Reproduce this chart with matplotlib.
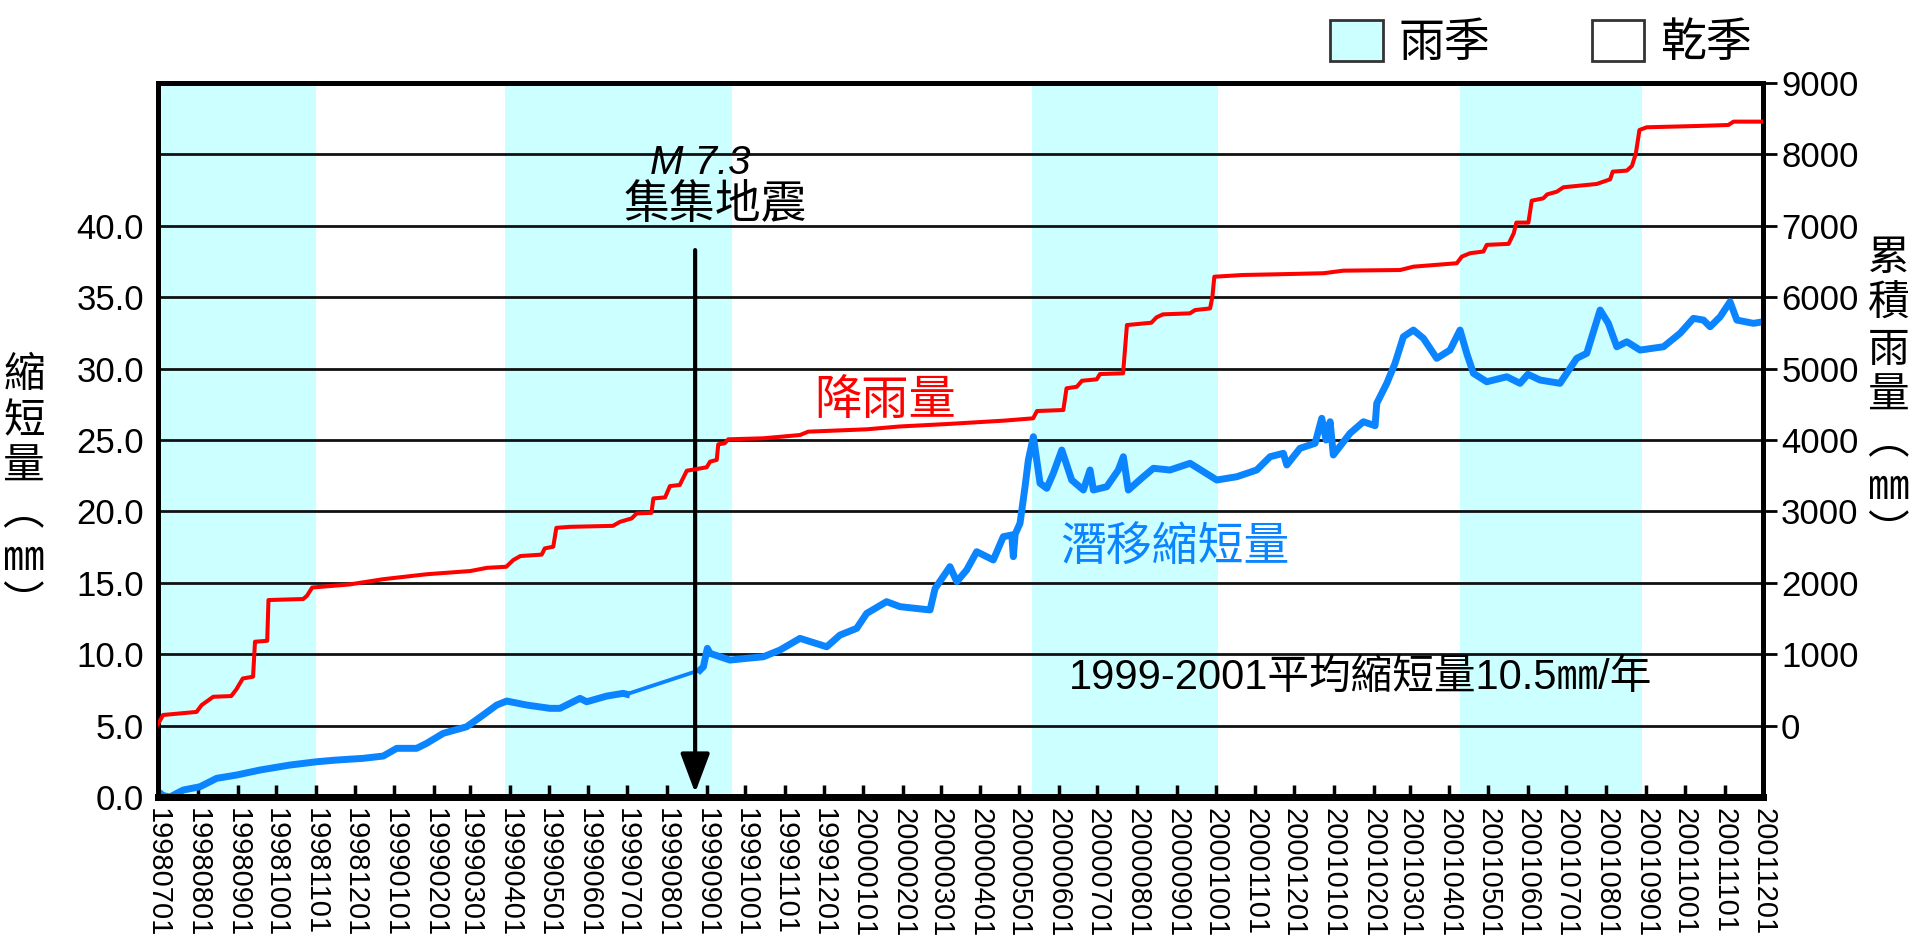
import numpy as np
import pandas as pd
import matplotlib
matplotlib.use("Agg")
import matplotlib.pyplot as plt
import matplotlib.dates as mdates
from matplotlib.patches import Patch

plt.rcParams["font.family"] = ["Liberation Sans", "Noto Sans CJK TC", "DejaVu Sans"]
CJK = ["Noto Sans CJK TC", "DejaVu Sans"]

START = pd.Timestamp("1998-07-01")
END = pd.Timestamp("2001-12-01")

# cumulative rainfall (mm), x = days since START
rain_day = [0, 4, 30, 34, 43, 57, 61, 66, 74, 75.5, 85, 86, 113, 116, 120, 149, 175, 209, 243, 256,
            271, 276.5, 282, 298.6, 301, 307.6, 310, 320.6, 354, 359.5, 368.6, 372.5, 384, 385.5, 394.6,
            398.4, 406, 411.5, 427, 429.6, 434.8, 436, 441, 443.8, 471, 499.6, 506, 551.5, 577.5, 614,
            658, 681, 684, 704.5, 707, 715, 719, 730.5, 733, 751, 754, 773, 777, 782, 803, 807, 818.7,
            820.5, 822, 844, 873, 907, 922.5, 966.6, 977, 1010.7, 1014.6, 1021, 1031.4, 1034, 1051,
            1055, 1057, 1066.4, 1069, 1078, 1081, 1088.5, 1093.7, 1119.6, 1130, 1132, 1143, 1147,
            1150, 1152.8, 1158.5, 1197.5, 1222, 1226, 1249]
rain_mm = [20, 149, 192, 288, 404, 414, 508, 660, 685, 1175, 1188, 1759, 1773, 1820, 1934, 1977, 2050,
           2120, 2165, 2210, 2225, 2319, 2375, 2395, 2482, 2506, 2770, 2784, 2798, 2854, 2902, 2972,
           2980, 3182, 3196, 3355, 3370, 3570, 3618, 3697, 3721, 3940, 3954, 4010, 4024, 4070, 4117,
           4150, 4190, 4224, 4271, 4304, 4406, 4420, 4724, 4746, 4830, 4850, 4924, 4934, 5610, 5643,
           5718, 5760, 5774, 5820, 5843, 6006, 6287, 6311, 6322, 6336, 6372, 6381, 6428, 6476, 6569,
           6616, 6640, 6733, 6747, 6896, 7045, 7045, 7352, 7385, 7440, 7478, 7540, 7586, 7651, 7759,
           7773, 7839, 8014, 8342, 8380, 8398, 8412, 8459, 8459]

# creep shortening (mm), x = days since START
creep_day = [0, 4, 9.3, 15.6, 19.7, 32.7, 45.7, 61.2, 79.4, 102.7, 123.5, 139, 159.8, 175.3, 185.8,
             201.3, 209.1, 222, 240.2, 253, 263.6, 271.4, 287, 305, 312.8, 328.4, 333.6, 349.2, 362,
             364.7, 421.8, 424.4, 427.5, 429.6, 445.1, 458.1, 471, 484, 499.6, 520.4, 530.7, 543.7,
             551.5, 567, 577.4, 600.8, 604.7, 616.3, 621.6, 629.3, 637.1, 650, 657.8, 664.4, 665.6,
             667, 670.8, 674.7, 677.3, 681.2, 686.4, 691.6, 696.7, 703.3, 711, 720.1, 725.3, 727.9,
             738.3, 747.3, 751.2, 755.1, 766.8, 774.6, 787.5, 803.1, 823.9, 839.5, 855, 865.4, 875.7,
             878.4, 888.7, 900.4, 905.6, 909, 912.1, 914.6, 927.6, 938, 947.1, 948.4, 956.2, 962.6,
             969.1, 976.9, 984.7, 995.1, 1005.4, 1013.2, 1018.4, 1023.6, 1034, 1049.6, 1059.9, 1066,
             1075.5, 1091, 1104, 1111.8, 1122.2, 1128.6, 1135.2, 1143, 1153.3, 1171.5, 1184.4,
             1194.8, 1202.6, 1207.8, 1215.6, 1223.3, 1228.6, 1241.5, 1249]
creep_mm = [0.4, 0.1, 0.0, 0.3, 0.49, 0.72, 1.31, 1.54, 1.89, 2.24, 2.47, 2.59, 2.71, 2.87, 3.41, 3.41,
            3.76, 4.46, 4.92, 5.74, 6.44, 6.72, 6.44, 6.21, 6.21, 6.91, 6.67, 7.07, 7.26, 7.2, 8.89,
            9.12, 10.41, 10.06, 9.59, 9.71, 9.82, 10.29, 11.11, 10.52, 11.34, 11.81, 12.86, 13.68,
            13.33, 13.1, 14.6, 16.13, 15.08, 15.9, 17.18, 16.6, 18.23, 18.35, 16.83, 18.4, 19.17,
            21.73, 23.6, 25.23, 21.97, 21.62, 22.67, 24.3, 22.2, 21.5, 22.9, 21.5, 21.73, 22.9, 23.83,
            21.5, 22.43, 23.02, 22.9, 23.37, 22.2, 22.43, 22.9, 23.83, 24.07, 23.25, 24.42, 24.77,
            26.52, 25.0, 26.28, 23.95, 25.47, 26.28, 26.0, 27.57, 28.97, 30.37, 32.23, 32.7, 32.12,
            30.72, 31.3, 32.7, 31.07, 29.67, 29.08, 29.43, 28.97, 29.6, 29.2, 28.97, 30.72, 31.07,
            34.1, 33.17, 31.53, 31.88, 31.3, 31.53, 32.47, 33.52, 33.4, 32.93, 33.63, 34.68, 33.4,
            33.17, 33.28]
# index where the record resumes after the mid-1999 gap
creep_gap = 30

# rainy seasons
wet_start = ["1998-07-01", "1999-03-28", "2000-05-11", "2001-04-09"]
wet_end = ["1998-11-01", "1999-09-21", "2000-10-03", "2001-08-29"]

quake_mark = "1999-08-23"

WET = "#ccffff"
RED = "#ff0000"
BLUE = "#0a84ff"


def to_dates(days):
    return START + pd.to_timedelta(np.asarray(days, dtype=float), unit="D")


fig = plt.figure(figsize=(19.17, 9.39), dpi=100)
ax = fig.add_axes([0.0824, 0.1512, 0.8373, 0.7604])
ax2 = ax.twinx()

for s, e in zip(wet_start, wet_end):
    ax.axvspan(pd.Timestamp(s), pd.Timestamp(e), color=WET, lw=0, zorder=0)

cx = to_dates(creep_day)
ax.plot(cx, creep_mm, color=BLUE, lw=2.8, zorder=3)
# recorded stretches drawn heavier than the interpolated gap
ax.plot(cx[:creep_gap], creep_mm[:creep_gap], color=BLUE, lw=5, zorder=3)
ax.plot(cx[creep_gap:], creep_mm[creep_gap:], color=BLUE, lw=5, zorder=3)
ax2.plot(to_dates(rain_day), rain_mm, color=RED, lw=2.9, zorder=3)

ax.set_xlim(START, END)
ax.set_ylim(0, 50)
ax2.set_ylim(-1000, 9000)

ticks = np.arange(0, 50, 5)
ax.set_yticks(ticks)
ax.set_yticklabels([f"{t:.1f}" if t <= 40 else "" for t in ticks])
ax.grid(axis="y", color="#111111", lw=2)
ax2.set_yticks(np.arange(0, 9001, 1000))

ax.xaxis.set_major_locator(mdates.MonthLocator())
ax.xaxis.set_major_formatter(mdates.DateFormatter("%Y%m%d"))
ax.tick_params(axis="x", direction="in", length=9, width=2.5, labelsize=21,
               labelrotation=270, pad=8)
ax.tick_params(axis="y", length=0, labelsize=25, pad=10)
ax2.tick_params(axis="y", direction="out", length=10, width=2, labelsize=25, pad=3)

for a in (ax, ax2):
    for sp in a.spines.values():
        sp.set_linewidth(3.5)
    a.spines["bottom"].set_linewidth(5)

# earthquake marker
ax.annotate("", xy=(pd.Timestamp(quake_mark), 0.3), xytext=(pd.Timestamp(quake_mark), 38.3),
            arrowprops=dict(arrowstyle="-|>,head_length=2.4,head_width=0.9", lw=3,
                            color="black", shrinkA=0, shrinkB=0, mutation_scale=10),
            zorder=5)
ax.text(0.3377, 0.888, "M 7.3", transform=ax.transAxes, fontsize=29, style="italic",
        ha="center", va="center")
ax.text(0.347, 0.829, "集集地震", transform=ax.transAxes, fontsize=33, family=CJK,
        ha="center", va="center")
ax.text(0.453, 0.5546, "降雨量", transform=ax.transAxes, fontsize=34, family=CJK,
        color=RED, ha="center", va="center")
ax.text(0.6336, 0.350, "潛移縮短量", transform=ax.transAxes, fontsize=33, family=CJK,
        color=BLUE, ha="center", va="center")
ax.text(0.749, 0.1667, "1999-2001平均縮短量10.5㎜/年", transform=ax.transAxes, fontsize=30,
        ha="center", va="center")

# stacked vertical axis titles
fig.text(0.0125, 0.478, "\n".join("縮短量︵㎜︶"), fontsize=30, family=CJK,
         ha="center", va="center", linespacing=1.15)
fig.text(0.9854, 0.578, "\n".join("累積雨量︵㎜︶"), fontsize=30, family=CJK,
         ha="center", va="center", linespacing=1.15)

handles = [Patch(facecolor=WET, edgecolor="#333333", lw=2),
           Patch(facecolor="white", edgecolor="#333333", lw=2)]
fig.legend(handles, ["雨季", "乾季"], loc="upper right", bbox_to_anchor=(0.9235, 1.0),
           ncol=2, frameon=False, prop={"family": CJK, "size": 33}, handlelength=1.15,
           handleheight=1.0, handletextpad=0.35, columnspacing=2.2, borderaxespad=0)

fig.savefig("out.png", dpi=100)
